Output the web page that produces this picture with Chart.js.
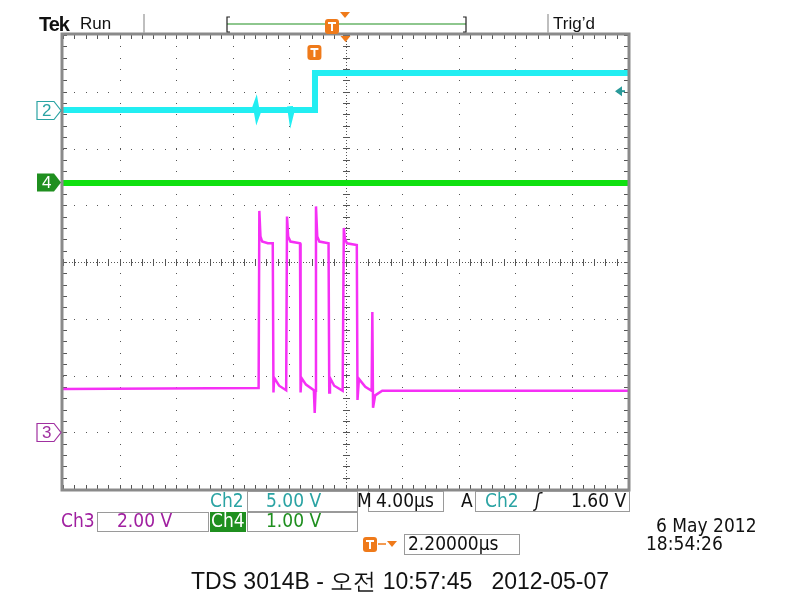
<!DOCTYPE html>
<html>
<head>
<meta charset="utf-8">
<script src="https://cdn.jsdelivr.net/npm/chart.js@4.4.0/dist/chart.umd.min.js"></script>
<style>
    body{ margin:0; background:#fff; }
    #wrap{ position:relative; width:800px; height:600px; overflow:hidden; }
    #scope{ position:absolute; left:0; top:0; }
    .t{ position:absolute; white-space:nowrap; line-height:1; }
    .ro{ font-family:"Liberation Sans Narrow","DejaVu Sans Condensed","Liberation Sans",sans-serif; font-size:19px; }
    .box{ position:absolute; border:1px solid #9a9a9a; box-sizing:border-box; background:#fff; }
</style>
</head>
<body>
<div id="wrap">
    <canvas id="scope" width="800" height="600"></canvas>

    <div class="t" style="left:39px;top:13px;font:bold 20px 'Liberation Sans',sans-serif;letter-spacing:-1px;color:#111;">Tek</div>
    <div class="t" style="left:80px;top:14px;font:17px 'Liberation Sans',sans-serif;color:#111;">Run</div>
    <div class="t" style="left:553px;top:14px;font:17px 'Liberation Sans',sans-serif;color:#111;">Trig’d</div>

    <div class="box" style="left:247px;top:491px;width:111px;height:21px;"></div>
    <div class="box" style="left:368px;top:491px;width:76px;height:21px;"></div>
    <div class="box" style="left:475px;top:491px;width:155px;height:21px;"></div>
    <div class="box" style="left:97px;top:512px;width:112px;height:20px;"></div>
    <div class="box" style="left:247px;top:512px;width:111px;height:20px;"></div>
    <div class="box" style="left:404px;top:534px;width:116px;height:21px;"></div>
    <div class="t" style="left:210px;top:512px;width:36px;height:20px;background:#1f8f1f;"></div>

    <div class="t ro" style="left:210px;top:491px;color:#2aa3a3;">Ch2</div>
    <div class="t ro" style="left:266px;top:491px;color:#2aa3a3;">5.00 V</div>
    <div class="t ro" style="left:357px;top:491px;color:#111;">M</div>
    <div class="t ro" style="left:376px;top:491px;color:#111;">4.00µs</div>
    <div class="t ro" style="left:461px;top:491px;color:#111;">A</div>
    <div class="t ro" style="left:485px;top:491px;color:#2aa3a3;">Ch2</div>
    <div class="t ro" style="left:535px;top:491px;color:#111;font-style:italic;">ʃ</div>
    <div class="t ro" style="left:571px;top:491px;color:#111;">1.60 V</div>
    <div class="t ro" style="left:61px;top:511px;color:#a020a0;">Ch3</div>
    <div class="t ro" style="left:117px;top:511px;color:#a020a0;">2.00 V</div>
    <div class="t ro" style="left:211px;top:511px;color:#fff;">Ch4</div>
    <div class="t ro" style="left:266px;top:511px;color:#1f8f1f;">1.00 V</div>
    <div class="t ro" style="left:408px;top:534px;color:#111;">2.20000µs</div>
    <div class="t ro" style="left:656px;top:516px;color:#111;">6 May 2012</div>
    <div class="t ro" style="left:646px;top:534px;color:#111;">18:54:26</div>

    <div class="t" style="left:0;width:800px;text-align:center;top:566px;font:23px 'Liberation Sans',sans-serif;color:#111;">TDS 3014B - 오전 10:57:45&nbsp;&nbsp; 2012-05-07</div>
</div>
<script>
// time in microseconds (4 us/div, 0 = screen centre), level in divisions
const ch2Time = [-20, -6.45, -6.35, -6.25, -6.15, -4.0, -3.93, -3.86, -3.8, -2.2, -2.16, 20];
const ch2Div  = [2.68, 2.68, 2.75, 2.61, 2.68, 2.68, 2.74, 2.62, 2.68, 2.68, 3.33, 3.33];

const ch4Time = [-20, 20];
const ch4Div  = [1.39, 1.39];

const ch3Time = [-20, -6.15, -6.1, -6.02, -5.9, -5.5, -5.15,
                 -5.1, -5.05, -4.7, -4.2, -4.14, -4.06, -3.9, -3.22,
                 -3.18, -3.12, -2.8, -2.24, -2.18, -2.12, -2.09, -2.0, -1.85, -1.2,
                 -1.15, -1.1, -0.8, -0.2, -0.12, -0.05, 0.1, 0.8,
                 0.85, 0.95, 1.4, 1.85, 1.9, 1.95, 2.1, 2.6, 20];
const ch3Div  = [-2.24, -2.22, 0.90, 0.45, 0.36, 0.33, 0.33,
                 -2.30, -2.04, -2.18, -2.26, 0.80, 0.45, 0.36, 0.33,
                 -2.30, -2.04, -2.16, -2.26, -2.66, -2.27, 0.98, 0.45, 0.36, 0.33,
                 -2.30, -2.04, -2.18, -2.27, 0.60, 0.42, 0.33, 0.30,
                 -2.43, -2.06, -2.20, -2.27, -0.88, -2.57, -2.35, -2.27, -2.27];

const ch2Ground = 2.68, ch4Ground = 1.41, ch3Ground = -3.0;
const trigLevel = 3.01, trigTime = -2.2;

function pts(t, v){ return t.map((x, i) => ({x: x, y: v[i]})); }

const graticule = {
    id: 'graticule',
    beforeDatasetsDraw(chart){
        const ctx = chart.ctx, xs = chart.scales.x, ys = chart.scales.y;
        const a = chart.chartArea;
        ctx.save();
        ctx.fillStyle = '#555';
        for(let d = -20; d <= 20; d += 4){
            const px = Math.round(xs.getPixelForValue(d));
            if(d === 0 || d === -20 || d === 20) continue;
            for(let m = -4; m <= 4.001; m += 0.2) ctx.fillRect(px, Math.round(ys.getPixelForValue(m)), 1, 1);
        }
        for(let d = -4; d <= 4; d++){
            const py = Math.round(ys.getPixelForValue(d));
            if(d === 0 || d === -4 || d === 4) continue;
            for(let m = -20; m <= 20.001; m += 0.8) ctx.fillRect(Math.round(xs.getPixelForValue(m)), py, 1, 1);
        }
        // centre cross
        const cx = Math.round(xs.getPixelForValue(0)), cy = Math.round(ys.getPixelForValue(0));
        for(let x = a.left; x < a.right; x += 3) ctx.fillRect(x, cy, 1, 1);
        for(let y = a.top; y < a.bottom; y += 3) ctx.fillRect(cx, y, 1, 1);
        for(let m = -20; m <= 20.001; m += 0.8){
            const px = Math.round(xs.getPixelForValue(m));
            ctx.fillRect(px, cy - 3, 1, 7);
            ctx.fillRect(px, a.top, 1, 4);
            ctx.fillRect(px, a.bottom - 4, 1, 4);
        }
        for(let m = -4; m <= 4.001; m += 0.2){
            const py = Math.round(ys.getPixelForValue(m));
            ctx.fillRect(cx - 3, py, 7, 1);
            ctx.fillRect(a.left, py, 4, 1);
            ctx.fillRect(a.right - 4, py, 4, 1);
        }
        ctx.restore();
    },
    afterDraw(chart){
        const ctx = chart.ctx, xs = chart.scales.x, ys = chart.scales.y;
        const a = chart.chartArea;
        ctx.save();
        // frame
        ctx.strokeStyle = '#8a8a8a';
        ctx.lineWidth = 3;
        ctx.strokeRect(a.left - 1, a.top - 1, a.right - a.left + 2, a.bottom - a.top + 2);

        // top bar separators and record view
        ctx.lineWidth = 1.5;
        ctx.strokeStyle = '#aaa';
        ctx.beginPath(); ctx.moveTo(144, 14); ctx.lineTo(144, 33); ctx.moveTo(548, 14); ctx.lineTo(548, 33); ctx.stroke();
        ctx.strokeStyle = '#1f8f1f';
        ctx.lineWidth = 1.2;
        ctx.beginPath(); ctx.moveTo(227, 24); ctx.lineTo(466, 24); ctx.stroke();
        ctx.strokeStyle = '#222';
        ctx.beginPath();
        ctx.moveTo(230, 17); ctx.lineTo(227, 17); ctx.lineTo(227, 32); ctx.lineTo(230, 32);
        ctx.moveTo(463, 17); ctx.lineTo(466, 17); ctx.lineTo(466, 32); ctx.lineTo(463, 32);
        ctx.stroke();

        const orange = '#ef7a1a';
        function tMark(x, y){
            ctx.fillStyle = orange;
            ctx.beginPath(); ctx.roundRect(x - 7, y - 7, 14, 15, 3); ctx.fill();
            ctx.fillStyle = '#fff';
            ctx.fillRect(x - 4, y - 4, 8, 2);
            ctx.fillRect(x - 1, y - 4, 2, 9);
        }
        function tri(x, y){
            ctx.fillStyle = orange;
            ctx.beginPath(); ctx.moveTo(x - 5, y); ctx.lineTo(x + 5, y); ctx.lineTo(x, y + 6); ctx.fill();
        }
        tMark(332, 26); tri(345, 12);
        const cx = xs.getPixelForValue(0);
        tri(cx, a.top + 1);
        tMark(xs.getPixelForValue(trigTime), a.top + 17);
        // readout trigger-to-centre symbol
        tMark(370, 544);
        ctx.strokeStyle = orange; ctx.lineWidth = 1.5;
        ctx.beginPath(); ctx.moveTo(378, 544); ctx.lineTo(386, 544); ctx.stroke();
        tri(392, 541);

        // trigger level arrow
        const ty = ys.getPixelForValue(trigLevel);
        ctx.fillStyle = '#2a9a9a';
        ctx.beginPath(); ctx.moveTo(a.right - 13, ty); ctx.lineTo(a.right - 6, ty - 5); ctx.lineTo(a.right - 6, ty + 5); ctx.fill();
        ctx.fillRect(a.right - 7, ty - 1, 4, 2);

        // channel ground markers
        function marker(v, label, col, filled){
            const y = Math.round(ys.getPixelForValue(v)) + 0.5;
            const l = a.left - 26, r = a.left - 2;
            ctx.beginPath();
            ctx.moveTo(l, y - 9); ctx.lineTo(r - 7, y - 9); ctx.lineTo(r, y); ctx.lineTo(r - 7, y + 9); ctx.lineTo(l, y + 9); ctx.closePath();
            ctx.lineWidth = 1.2;
            if(filled){ ctx.fillStyle = col; ctx.fill(); }
            else { ctx.fillStyle = '#fff'; ctx.fill(); ctx.strokeStyle = col; ctx.stroke(); }
            ctx.fillStyle = filled ? '#fff' : col;
            ctx.font = '17px "Liberation Sans", sans-serif';
            ctx.textBaseline = 'middle';
            ctx.fillText(label, l + 5, y + 1);
        }
        marker(ch2Ground, '2', '#2aa3a3', false);
        marker(ch4Ground, '4', '#1f8f1f', true);
        marker(ch3Ground, '3', '#a030a0', false);
        ctx.restore();
    }
};

function init(){
    const el = document.getElementById('scope');
    new Chart(el, {
        type: 'line',
        data: {
            datasets: [
                { label: 'Ch3', data: pts(ch3Time, ch3Div), borderColor: '#f530f5', borderWidth: 2.5 },
                { label: 'Ch4', data: pts(ch4Time, ch4Div), borderColor: '#10e010', borderWidth: 6 },
                { label: 'Ch2', data: pts(ch2Time, ch2Div), borderColor: '#22eef2', borderWidth: 6 }
            ]
        },
        options: {
            responsive: false,
            animation: false,
            events: [],
            layout: { padding: { left: 63, top: 35, right: 172, bottom: 111 } },
            elements: { point: { radius: 0 }, line: { tension: 0, borderJoinStyle: 'miter' } },
            plugins: { legend: { display: false }, tooltip: { enabled: false } },
            scales: {
                x: { type: 'linear', min: -20, max: 20, display: false },
                y: { type: 'linear', min: -4, max: 4, display: false }
            }
        },
        plugins: [graticule]
    });
}
document.addEventListener("DOMContentLoaded", init);
</script>
</body>
</html>
